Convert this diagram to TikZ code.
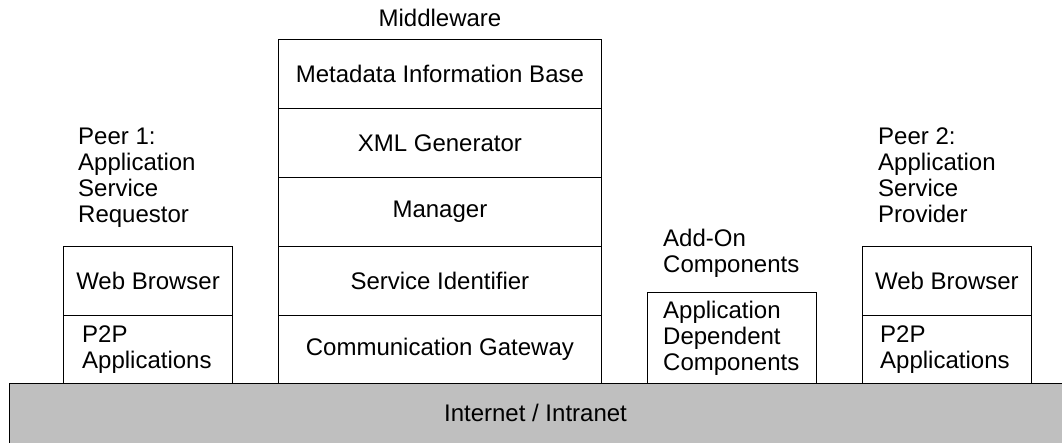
\documentclass[tikz,border=0pt]{standalone}
\usepackage{fontspec}
\setmainfont{Liberation Sans}
\begin{document}
\begin{tikzpicture}[x=1pt,y=-1pt,
  every node/.style={font=\fontsize{24}{26}\selectfont},
  layer/.style={draw, line width=1.1pt, anchor=north west, inner sep=0pt,
    minimum width=#1},
  layer/.default=322.7pt,
  leftbox/.style={draw, line width=1.1pt, anchor=north west, inner sep=0pt,
    align=left},
  caption/.style={anchor=north west, inner sep=0pt, align=left},
  net/.style={draw, line width=1.1pt, fill=black!25, anchor=north west,
    inner sep=0pt, minimum width=1060pt, minimum height=70pt}]
\useasboundingbox (0,0) rectangle (1062,443);

% network base
\node[net] (net) at (9,383) {};
\node at (535.5,412.5) (nettext) {Internet / Intranet};

% middleware stack
\node[anchor=base] (mwlabel) at (440,27) {Middleware};
\node[layer, minimum height=68.7pt] (mib) at (278,39.3) {Metadata Information Base};
\node[layer, minimum height=68.7pt] (xml) at (278,108) {XML Generator};
\node[layer, minimum height=69pt] (mgr) at (278,176.7) {Manager};
\node[layer, minimum height=69.3pt] (sid) at (278,245.7) {Service Identifier};
\node[layer, minimum height=68pt] (cgw) at (278,315) {Communication Gateway};

% peer 1
\node[caption] (p1label) at (78,128) {Peer 1:\\Application\\Service\\Requestor};
\node[layer=169pt, minimum height=69.3pt] (wb1) at (63,245.7) {Web Browser};
\node[leftbox, minimum width=169pt, minimum height=68pt] (p2p1) at (63,315) {};
\node[caption, anchor=west] (p2p1text) at (82,349.5) {P2P\\Applications};

% add-on components
\node[caption] (addlabel) at (663,229) {Add-On\\Components};
\node[leftbox, minimum width=169.3pt, minimum height=91.3pt] (adc) at (646.7,291.7) {};
\node[caption, anchor=west] (adctext) at (663,338) {Application\\Dependent\\Components};

% peer 2
\node[caption] (p2label) at (878,128) {Peer 2:\\Application\\Service\\Provider};
\node[layer=169.3pt, minimum height=69pt] (wb2) at (861.7,246) {Web Browser};
\node[leftbox, minimum width=169.3pt, minimum height=68pt] (p2p2) at (861.7,315) {};
\node[caption, anchor=west] (p2p2text) at (880,349.5) {P2P\\Applications};
\end{tikzpicture}
\end{document}
